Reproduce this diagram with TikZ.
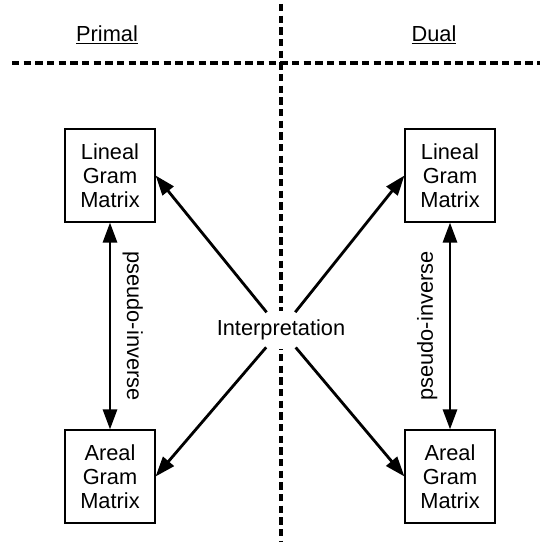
\documentclass[tikz,border=0pt]{standalone}
\usepackage{fontspec}
\setmainfont{Liberation Sans}
\usetikzlibrary{arrows.meta,positioning}

\begin{document}
\begin{tikzpicture}[font=\fontsize{15.5}{17.2}\selectfont,
  >={Triangle[length=5mm,width=3.5mm]},
  gram/.style={draw,line width=0.8pt,align=center,minimum width=2.25cm,minimum height=2.325cm,inner sep=0pt},
  link/.style={line width=2pt},
  split/.style={line width=2.2pt,dash pattern=on 5.2pt off 3.1pt}]
  \useasboundingbox(0,0)rectangle(13.5,13.55);
  \draw[split](0.3,11.975)--(13.5,11.975);
  \draw[split](7.025,13.45)--(7.025,0);
  \node(primal)at(2.675,12.675){\underline{Primal}};
  \node(dual)at(10.85,12.675){\underline{Dual}};
  \node[gram](lineal1)at(2.75,9.1625){Lineal\\Gram\\Matrix};
  \node[gram](areal1)at(2.75,1.6375){Areal\\Gram\\Matrix};
  \node[gram](lineal2)at(11.25,9.1625){Lineal\\Gram\\Matrix};
  \node[gram](areal2)at(11.25,1.6375){Areal\\Gram\\Matrix};
  \node[fill=white,inner xsep=2pt,inner ysep=6pt](interp)at(7.025,5.3){Interpretation};
  \draw[link,->,shorten <=0.57cm](interp.center)--(lineal1.east);
  \draw[link,->,shorten <=0.57cm](interp.center)--(areal1.east);
  \draw[link,->,shorten <=0.57cm](interp.center)--(lineal2.west);
  \draw[link,->,shorten <=0.57cm](interp.center)--(areal2.west);
  \draw[link,<->](lineal1)--node[midway,above,rotate=-90,inner sep=8pt]{pseudo-inverse}(areal1);
  \draw[link,<->](lineal2)--node[midway,above,rotate=90,inner sep=8pt]{pseudo-inverse}(areal2);
\end{tikzpicture}
\end{document}
